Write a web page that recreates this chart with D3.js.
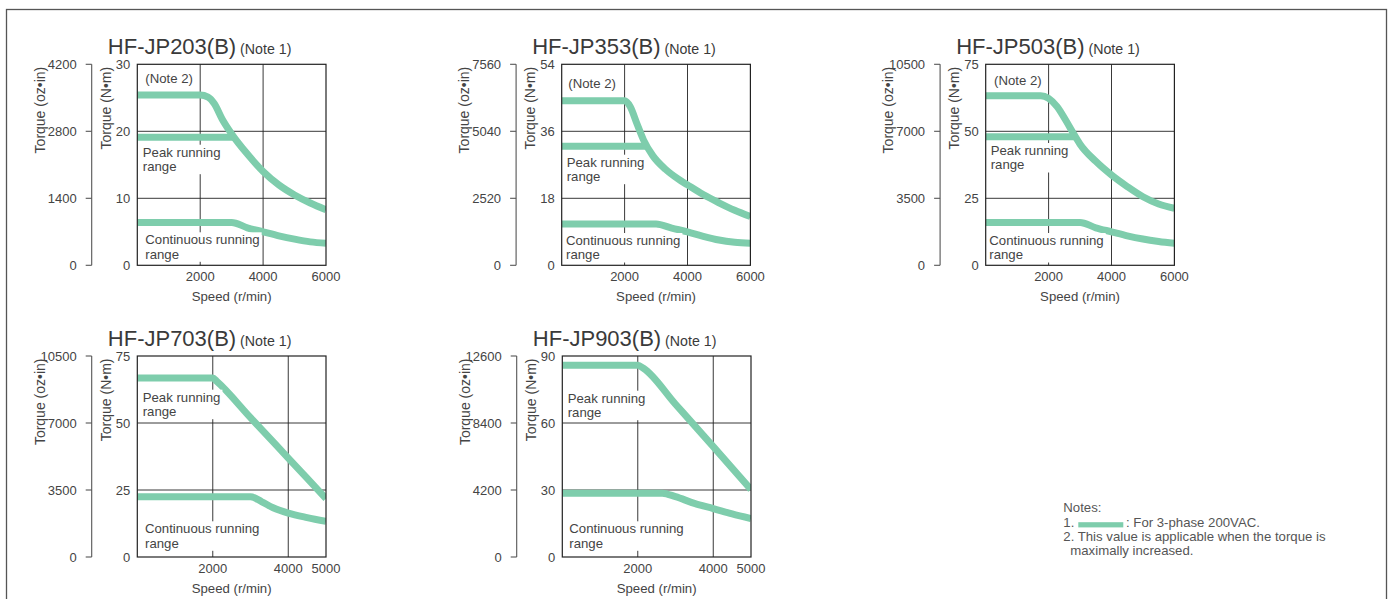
<!DOCTYPE html>
<html><head><meta charset="utf-8">
<script src="https://cdn.jsdelivr.net/npm/d3@7"></script>
<style>
html,body{margin:0;padding:0;background:#fff;}
svg{display:block;font-family:"Liberation Sans",Arial,Helvetica,sans-serif;}
</style></head><body>
<svg id="c" width="1393" height="599"></svg>
<script>
// ---------- data ----------
const models = ["HF-JP203(B)", "HF-JP353(B)", "HF-JP503(B)", "HF-JP703(B)", "HF-JP903(B)"];
const speedMax = [6000, 6000, 6000, 5000, 5000];
const speedTicks = [[2000, 4000, 6000], [2000, 4000, 6000], [2000, 4000, 6000], [2000, 4000, 5000], [2000, 4000, 5000]];
const torqueNmTicks = [[0, 10, 20, 30], [0, 18, 36, 54], [0, 25, 50, 75], [0, 25, 50, 75], [0, 30, 60, 90]];
const torqueOzTicks = [[0, 1400, 2800, 4200], [0, 2520, 5040, 7560], [0, 3500, 7000, 10500], [0, 3500, 7000, 10500], [0, 4200, 8400, 12600]];

// peak torque when maximally increased (Note 2) for 203/353/503, standard peak for 703/903
const peakUpper = [
  [[0, 25.4], [2000, 25.4], [2250, 25.1], [2450, 24.1], [2700, 21.8], [3000, 19.6], [3500, 16.6], [4000, 14.0], [4500, 12.0], [5000, 10.5], [5500, 9.3], [6000, 8.3]],
  [[0, 44.2], [2000, 44.2], [2180, 42.6], [2390, 38.1], [2600, 33.7], [2900, 29.4], [3300, 25.8], [3700, 23.2], [4000, 21.6], [4500, 19.0], [5000, 16.8], [5500, 14.8], [6000, 13.1]],
  [[0, 63.3], [1750, 63.3], [2000, 62.3], [2270, 59.2], [2540, 54.2], [2820, 48.6], [3000, 45.2], [3500, 38.8], [4000, 33.7], [4500, 29.4], [5000, 25.6], [5500, 22.9], [6000, 21.3]],
  [[0, 66.8], [2000, 66.8], [2100, 65.6], [3000, 52.0], [4000, 36.9], [5000, 21.8]],
  [[0, 85.9], [2000, 85.9], [2150, 84.5], [3000, 68.4], [4000, 49.4], [5000, 30.2]]
];
// standard peak torque (flat part) for models with Note 2
const peakRated = [
  [[0, 19.1], [3050, 19.1]],
  [[0, 32.0], [2650, 32.0]],
  [[0, 48.0], [2820, 48.0]],
  null,
  null
];
const continuous = [
  [[0, 6.4], [3000, 6.4], [3500, 5.6], [4000, 5.0], [4500, 4.4], [5000, 3.9], [5500, 3.5], [6000, 3.3]],
  [[0, 11.1], [3000, 11.1], [3500, 10.0], [4000, 9.0], [4500, 7.8], [5000, 6.8], [5500, 6.2], [6000, 5.9]],
  [[0, 16.0], [3000, 16.0], [3500, 14.0], [4000, 12.5], [4500, 11.0], [5000, 9.8], [5500, 8.9], [6000, 8.2]],
  [[0, 22.5], [3000, 22.5], [3300, 20.6], [3600, 18.4], [4000, 16.4], [4500, 14.7], [5000, 13.3]],
  [[0, 28.6], [2650, 28.6], [3000, 27.0], [3500, 24.0], [4000, 21.7], [4500, 19.3], [5000, 17.2]]
];
const noteLines = [
  "Notes:",
  "1.",
  ": For 3-phase 200VAC.",
  "2. This value is applicable when the torque is",
  "maximally increased."
];

// ---------- layout ----------
const W = 188.7, H = 201;
const layout = [
  {left: 137.3, top: 64.3, note2: [8, 19], peak: [5.5, 92.4], cont: [8, 180]},
  {left: 561.7, top: 64.3, note2: [6.6, 24], peak: [5, 102.4], cont: [4.3, 180.7]},
  {left: 985.7, top: 64.3, note2: [8.3, 20.7], peak: [5, 90.7], cont: [3.6, 180.7]},
  {left: 137.3, top: 356, note2: null, peak: [5.4, 45.7], cont: [7.7, 177.3]},
  {left: 562.3, top: 356, note2: null, peak: [5.4, 46.7], cont: [7, 177.3]}
];
const GREEN = "rgb(126,205,172)";
const TXT = "#444";

const svg = d3.select("#c");
// outer frame
svg.append("rect").attr("x", 6.5).attr("y", 9.5).attr("width", 1380).attr("height", 620)
  .attr("fill", "none").attr("stroke", "#555").attr("stroke-width", 1.3);

const defs = svg.append("defs");

models.forEach((name, i) => {
  const L = layout[i];
  const g = svg.append("g").attr("transform", `translate(${L.left},${L.top})`);
  const x = d3.scaleLinear().domain([0, speedMax[i]]).range([0, W]);
  const nmT = torqueNmTicks[i], ozT = torqueOzTicks[i];
  const y = d3.scaleLinear().domain([0, nmT[nmT.length - 1]]).range([H, 0]);
  const yOz = d3.scaleLinear().domain([0, ozT[ozT.length - 1]]).range([H, 0]);

  defs.append("clipPath").attr("id", "clip" + i)
    .append("rect").attr("x", 0).attr("y", 0).attr("width", W).attr("height", H);

  // gridlines
  const grid = g.append("g");
  grid.selectAll("line.v").data(speedTicks[i].filter(d => d < speedMax[i])).join("line")
    .attr("x1", d => x(d)).attr("x2", d => x(d)).attr("y1", 0).attr("y2", H)
    .attr("stroke", "#222").attr("stroke-width", 0.9);
  grid.selectAll("line.h").data(nmT.filter(d => d > 0 && d < nmT[nmT.length - 1])).join("line")
    .attr("x1", 0).attr("x2", W).attr("y1", d => y(d)).attr("y2", d => y(d))
    .attr("stroke", "#222").attr("stroke-width", 0.9);

  // curves
  const line = d3.line().x(d => x(d[0])).y(d => y(d[1])).curve(d3.curveMonotoneX);
  const curves = g.append("g").attr("clip-path", `url(#clip${i})`);
  [peakRated[i], peakUpper[i], continuous[i]].filter(Boolean).forEach(ser => {
    curves.append("path").attr("d", line(ser)).attr("fill", "none")
      .attr("stroke", GREEN).attr("stroke-width", 7);
  });

  // labels with white backing
  const labels = g.append("g").attr("font-size", 13.2).attr("fill", TXT);
  function label(lines, pos) {
    const tg = labels.append("g");
    const t = tg.append("text").attr("x", pos[0]).attr("y", pos[1]);
    lines.forEach((s, k) => t.append("tspan").attr("x", pos[0]).attr("dy", k === 0 ? 0 : 14.5).text(s));
    const b = t.node().getBBox();
    tg.insert("rect", "text").attr("x", b.x - 2).attr("y", b.y).attr("width", b.width + 4).attr("height", b.height)
      .attr("fill", "#fff");
  }
  if (L.note2) label(["(Note 2)"], L.note2);
  label(["Peak running", "range"], L.peak);
  label(["Continuous running", "range"], L.cont);

  // plot frame
  g.append("rect").attr("x", 0).attr("y", 0).attr("width", W).attr("height", H)
    .attr("fill", "none").attr("stroke", "#222").attr("stroke-width", 1.2);

  // N·m axis labels
  g.append("g").selectAll("text").data(nmT).join("text")
    .attr("x", -7).attr("y", d => y(d)).attr("dy", "0.35em").attr("text-anchor", "end")
    .attr("font-size", 13).attr("fill", TXT).text(d => d);
  // oz-in axis
  const ozX = -45.6;
  const oz = g.append("g");
  oz.append("line").attr("x1", ozX).attr("x2", ozX).attr("y1", 0).attr("y2", H)
    .attr("stroke", "#555").attr("stroke-width", 1.1);
  oz.selectAll("line.t").data(ozT).join("line").attr("class", "t")
    .attr("x1", ozX - 6).attr("x2", ozX).attr("y1", d => yOz(d)).attr("y2", d => yOz(d))
    .attr("stroke", "#555").attr("stroke-width", 1.1);
  oz.selectAll("text").data(ozT).join("text")
    .attr("x", ozX - 15).attr("y", d => yOz(d)).attr("dy", "0.35em").attr("text-anchor", "end")
    .attr("font-size", 13).attr("fill", TXT).text(d => d);

  // axis titles
  g.append("text").attr("transform", `translate(${ozX - 47},2.5) rotate(-90)`)
    .attr("text-anchor", "end").attr("font-size", 14).attr("fill", TXT).text("Torque (oz\u2022in)");
  g.append("text").attr("transform", `translate(-26.5,2.5) rotate(-90)`)
    .attr("text-anchor", "end").attr("font-size", 14).attr("fill", TXT).text("Torque (N\u2022m)");

  // x tick labels
  g.append("g").selectAll("text").data(speedTicks[i]).join("text")
    .attr("x", d => x(d)).attr("y", H + 15.5).attr("text-anchor", "middle")
    .attr("font-size", 13).attr("fill", TXT).text(d => d);
  g.append("text").attr("x", W / 2).attr("y", H + 35.5).attr("text-anchor", "middle")
    .attr("font-size", 13.2).attr("fill", TXT).text("Speed (r/min)");

  // title
  const title = g.append("text").attr("x", -29.5).attr("y", -10.5).attr("fill", "#3a3a3a");
  title.append("tspan").attr("font-size", 22).text(name);
  title.append("tspan").attr("font-size", 14.2).text(" (Note 1)");
});

// notes
const notes = svg.append("g").attr("font-size", 13.2).attr("fill", "#555");
notes.append("text").attr("x", 1063.3).attr("y", 511.7).text(noteLines[0]);
notes.append("text").attr("x", 1063.3).attr("y", 526.7).text(noteLines[1]);
notes.append("rect").attr("x", 1078.3).attr("y", 522.2).attr("width", 45).attr("height", 5.2).attr("fill", GREEN);
notes.append("text").attr("x", 1126).attr("y", 526.7).text(noteLines[2]);
notes.append("text").attr("x", 1063.3).attr("y", 540.7).text(noteLines[3]);
notes.append("text").attr("x", 1070.3).attr("y", 554.5).text(noteLines[4]);
</script>
</body></html>
